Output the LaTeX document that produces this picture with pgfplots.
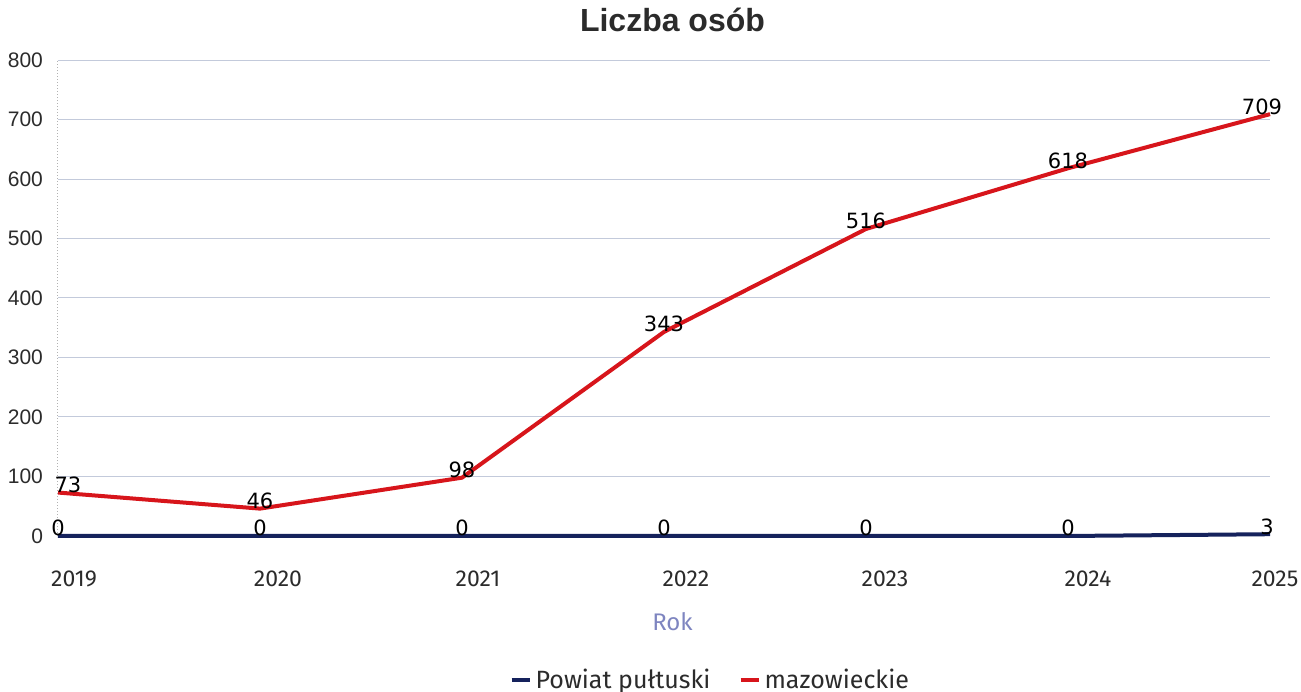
\documentclass[border=0pt]{standalone}
\usepackage{fontspec}
\setmainfont{Liberation Sans}
\newfontfamily\fira{Fira Sans}
\newfontfamily\dejavu{DejaVu Sans}
\usepackage{pgfplots}
\pgfplotsset{compat=1.18}
\usetikzlibrary{calc}
\definecolor{redline}{HTML}{D7151B}
\definecolor{navyline}{HTML}{15225C}
\definecolor{gridc}{HTML}{C3CADB}
\definecolor{lbl}{HTML}{2B2B2B}
\definecolor{rok}{HTML}{7E85C0}

\begin{document}
\begin{tikzpicture}
\begin{axis}[name=ax,
  width=606pt, height=238pt, scale only axis,
  xmin=2019, xmax=2025, ymin=0, ymax=800,
  xtick={2019,2020,...,2025},
  xticklabels={\hspace*{16pt}2019,\hspace*{18pt}2020,\hspace*{16pt}2021,\hspace*{22pt}2022,
               \hspace*{19pt}2023,\hspace*{20pt}2024,\hspace*{5pt}2025},
  ytick={0,100,...,800},
  ymajorgrids, grid style={gridc, line width=0.5pt},
  axis line style={draw=none}, major tick length=0pt,
  /pgf/number format/assume math mode=true,
  yticklabel style={font=\fontsize{10.5}{12}\selectfont, text=lbl, xshift=-4pt},
  xticklabel style={font=\fira\fontsize{11.5}{13}\selectfont, text=lbl, yshift=-14pt},
  xlabel={Rok},
  xlabel style={font=\fira\fontsize{12}{14}\selectfont, text=rok, at={(0.507,-0.181)}, anchor=center},
  title={Liczba osób},
  title style={font=\bfseries\fontsize{16}{18}\selectfont, text=lbl, at={(0.507,1.059)}, anchor=center},
  legend columns=2,
  legend style={at={(0.539,-0.303)}, anchor=center, draw=none, fill=none,
                font=\fira\fontsize{12.5}{14}\selectfont, text=lbl,
                /tikz/every even column/.append style={column sep=12pt}},
  legend image code/.code={\draw[#1, line width=2pt] (0pt,0pt) -- (9pt,0pt);},
  nodes near coords style={font=\dejavu\fontsize{10.5}{12}\selectfont, text=black,
                           anchor=base, inner sep=0pt},
  clip=false]
\draw[gray!60, densely dotted, line width=0.5pt] (axis cs:2019,0) -- (axis cs:2019,800);
\addplot[navyline, line width=2pt, mark=none,
  nodes near coords={\ifnum\coordindex=6\hspace*{-3pt}\fi\pgfmathprintnumber{\pgfplotspointmeta}}]
  coordinates {(2019,0) (2020,0) (2021,0) (2022,0) (2023,0) (2024,0) (2025,3)};
\addlegendentry{Powiat pułtuski}
\addplot[redline, line width=2pt, mark=none,
  nodes near coords={\ifnum\coordindex=0\hspace*{10pt}\fi\ifnum\coordindex=6\hspace*{-8pt}\fi\pgfmathprintnumber{\pgfplotspointmeta}}]
  coordinates {(2019,73) (2020,46) (2021,98) (2022,343) (2023,516) (2024,618) (2025,709)};
\addlegendentry{mazowieckie}
\end{axis}
\pgfresetboundingbox
\path ($(ax.south west)+(-29pt,-78pt)$) rectangle ($(ax.north east)+(15.5pt,30pt)$);
\end{tikzpicture}
\end{document}
